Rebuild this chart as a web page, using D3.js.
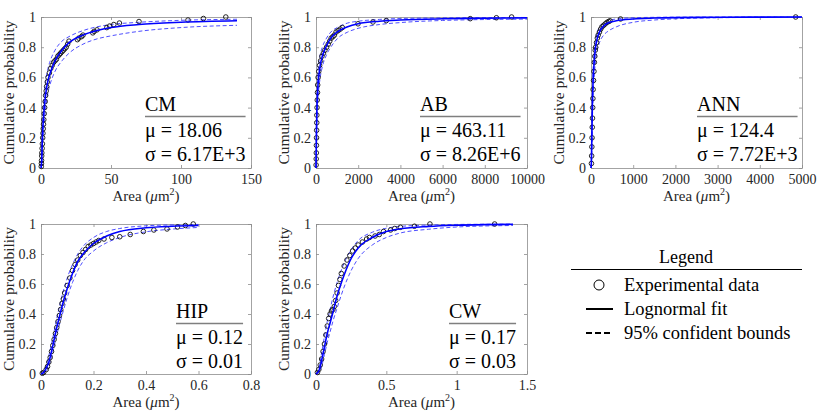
<!DOCTYPE html>
<html>
<head>
<meta charset="utf-8">
<script src="https://cdn.jsdelivr.net/npm/d3@7"></script>
<style>
  body { margin: 0; background: #fff; }
  svg, svg text { font-family: "Liberation Serif", "Times New Roman", Times, "DejaVu Serif", serif; }
</style>
</head>
<body>
<div id="wrapper"></div>
<script>
// panel labels and fitted parameters
const panelNames = ['CM', 'AB', 'ANN', 'HIP', 'CW']
const muLabels = ['18.06', '463.11', '124.4', '0.12', '0.17']
const sigmaLabels = ['6.17E+3', '8.26E+6', '7.72E+3', '0.01', '0.03']
const xDomains = [[0, 150], [0, 10000], [0, 5000], [0, 0.8], [0, 1.5]]
const xTicks = [
  [0, 50, 100, 150],
  [0, 2000, 4000, 6000, 8000, 10000],
  [0, 1000, 2000, 3000, 4000, 5000],
  [0, 0.2, 0.4, 0.6, 0.8],
  [0, 0.5, 1, 1.5]
]
const yTicks = [0, 0.2, 0.4, 0.6, 0.8, 1]
const legendLabels = ['Experimental data', 'Lognormal fit', '95% confident bounds']

// CM
const cmData = [[0.2,0.01],[0.3,0.03],[0.4,0.05],[0.5,0.08],[0.6,0.1],[0.8,0.13],[1,0.16],[1.2,0.2],[1.4,0.23],[1.6,0.26],[1.8,0.29],[2,0.32],[2.3,0.36],[2.6,0.4],[3,0.44],[3.3,0.48],[3.7,0.51],[4,0.54],[4.5,0.57],[5,0.6],[6,0.63],[7,0.66],[8,0.68],[9,0.7],[10,0.71],[11,0.72],[12,0.74],[13,0.75],[14,0.76],[15,0.77],[16,0.78],[17,0.79],[18,0.8],[19,0.82],[20,0.84],[26,0.85],[27,0.86],[29,0.87],[30,0.88],[37,0.895],[38,0.905],[40,0.915],[47,0.93],[49,0.94],[52,0.95],[56,0.96],[70,0.97],[105,0.98],[116,0.99],[132,1.0]]
const cmFit = [[0,0],[0.5,0.05],[1,0.2],[2,0.36],[3,0.46],[4,0.53],[5,0.58],[7,0.64],[10,0.71],[15,0.78],[20,0.83],[30,0.88],[40,0.91],[50,0.93],[70,0.95],[100,0.965],[140,0.975]]
const cmUpper = [[0,0],[0.3,0.03],[1,0.27],[2,0.45],[3,0.55],[5,0.66],[7,0.72],[10,0.78],[15,0.84],[20,0.87],[30,0.91],[40,0.935],[50,0.95],[70,0.965],[100,0.978],[140,0.985]]
const cmLower = [[0,0],[0.5,0.02],[1,0.13],[2,0.27],[3,0.37],[5,0.5],[7,0.57],[10,0.64],[15,0.71],[20,0.76],[30,0.82],[40,0.855],[50,0.875],[70,0.905],[100,0.93],[140,0.945]]

// AB
const abData = [[5,0.02],[10,0.06],[15,0.1],[20,0.15],[25,0.2],[30,0.25],[35,0.3],[40,0.35],[50,0.4],[60,0.45],[70,0.5],[80,0.55],[100,0.6],[130,0.64],[170,0.68],[220,0.71],[280,0.74],[350,0.76],[420,0.78],[500,0.8],[580,0.82],[650,0.84],[720,0.86],[800,0.87],[870,0.88],[950,0.9],[1050,0.91],[1150,0.92],[1250,0.93],[1990,0.955],[2700,0.967],[3330,0.976],[7310,0.989],[8550,0.995],[9270,1.0]]
const abFit = [[0,0],[10,0.1],[20,0.22],[40,0.37],[70,0.49],[100,0.56],[150,0.63],[200,0.68],[300,0.74],[500,0.81],[700,0.86],[1000,0.9],[1500,0.935],[2000,0.955],[3000,0.972],[4000,0.98],[6000,0.988],[8000,0.992],[10000,0.994]]
const abUpper = [[0,0],[10,0.15],[20,0.3],[40,0.46],[70,0.58],[100,0.65],[200,0.75],[300,0.8],[500,0.86],[700,0.9],[1000,0.93],[1500,0.96],[2000,0.972],[3000,0.984],[4000,0.99],[6000,0.994],[10000,0.997]]
const abLower = [[0,0],[10,0.06],[20,0.15],[40,0.28],[70,0.4],[100,0.47],[200,0.6],[300,0.67],[500,0.75],[700,0.8],[1000,0.855],[1500,0.9],[2000,0.925],[3000,0.95],[4000,0.963],[6000,0.977],[10000,0.986]]

// ANN
const annData = [[10,0.03],[15,0.08],[20,0.14],[25,0.2],[30,0.27],[35,0.33],[40,0.4],[45,0.46],[50,0.52],[60,0.58],[70,0.64],[80,0.7],[90,0.74],[100,0.78],[110,0.8],[130,0.83],[150,0.86],[170,0.88],[200,0.9],[230,0.92],[260,0.935],[300,0.945],[340,0.955],[380,0.965],[420,0.97],[450,0.975],[700,0.987],[4850,1.0]]
const annFit = [[0,0],[10,0.05],[20,0.2],[30,0.38],[50,0.58],[75,0.7],[100,0.78],[150,0.86],[200,0.9],[300,0.94],[400,0.96],[600,0.975],[1000,0.987],[1500,0.993],[2000,0.996],[3000,0.998],[5000,1.0]]
const annUpper = [[0,0],[10,0.08],[20,0.28],[30,0.46],[50,0.66],[75,0.77],[100,0.84],[150,0.9],[200,0.935],[300,0.96],[400,0.975],[600,0.987],[1000,0.995],[2000,0.999],[5000,1.0]]
const annLower = [[0,0],[10,0.02],[20,0.12],[30,0.28],[50,0.48],[75,0.6],[100,0.69],[150,0.78],[200,0.83],[300,0.88],[400,0.905],[600,0.935],[1000,0.965],[1500,0.98],[2000,0.988],[3000,0.995],[5000,0.999]]

// HIP
const hipData = [[0.005,0.005],[0.01,0.01],[0.02,0.03],[0.025,0.05],[0.03,0.08],[0.035,0.11],[0.04,0.15],[0.045,0.19],[0.05,0.23],[0.055,0.27],[0.06,0.31],[0.065,0.35],[0.07,0.39],[0.075,0.43],[0.08,0.47],[0.085,0.5],[0.09,0.54],[0.1,0.59],[0.11,0.64],[0.12,0.69],[0.13,0.73],[0.14,0.76],[0.15,0.79],[0.16,0.81],[0.17,0.83],[0.18,0.85],[0.19,0.86],[0.2,0.87],[0.21,0.88],[0.22,0.89],[0.24,0.9],[0.27,0.91],[0.3,0.915],[0.34,0.93],[0.39,0.95],[0.43,0.96],[0.48,0.967],[0.52,0.98],[0.55,0.99],[0.58,1.0]]
const hipFit = [[0,0],[0.01,0.01],[0.02,0.04],[0.03,0.08],[0.04,0.15],[0.05,0.23],[0.06,0.31],[0.07,0.38],[0.08,0.45],[0.1,0.57],[0.12,0.67],[0.14,0.75],[0.16,0.8],[0.2,0.87],[0.25,0.92],[0.3,0.95],[0.4,0.975],[0.5,0.985],[0.6,0.99]]
const hipUpper = [[0,0],[0.02,0.06],[0.04,0.2],[0.06,0.37],[0.08,0.52],[0.1,0.64],[0.12,0.73],[0.14,0.8],[0.16,0.85],[0.2,0.91],[0.25,0.95],[0.3,0.97],[0.4,0.988],[0.5,0.994],[0.6,0.997]]
const hipLower = [[0,0],[0.02,0.02],[0.04,0.11],[0.06,0.26],[0.08,0.39],[0.1,0.51],[0.12,0.61],[0.14,0.69],[0.16,0.75],[0.2,0.82],[0.25,0.875],[0.3,0.91],[0.4,0.948],[0.5,0.966],[0.6,0.977]]

// CW
const cwData = [[0.01,0.01],[0.02,0.03],[0.03,0.06],[0.04,0.1],[0.05,0.15],[0.06,0.2],[0.07,0.26],[0.08,0.32],[0.09,0.37],[0.1,0.4],[0.11,0.42],[0.12,0.43],[0.13,0.45],[0.14,0.49],[0.15,0.54],[0.16,0.59],[0.17,0.63],[0.18,0.67],[0.2,0.72],[0.22,0.76],[0.24,0.79],[0.26,0.82],[0.28,0.84],[0.3,0.86],[0.33,0.88],[0.36,0.9],[0.38,0.91],[0.42,0.92],[0.45,0.93],[0.48,0.95],[0.53,0.96],[0.56,0.97],[0.6,0.978],[0.7,0.985],[0.81,1.0],[1.27,1.0]]
const cwFit = [[0,0],[0.02,0.02],[0.04,0.09],[0.06,0.18],[0.08,0.27],[0.1,0.34],[0.12,0.41],[0.15,0.52],[0.2,0.66],[0.25,0.77],[0.3,0.84],[0.4,0.91],[0.5,0.95],[0.6,0.968],[0.8,0.984],[1.0,0.992],[1.2,0.996],[1.4,0.998]]
const cwUpper = [[0,0],[0.02,0.04],[0.04,0.14],[0.06,0.25],[0.08,0.35],[0.1,0.43],[0.12,0.51],[0.15,0.61],[0.2,0.74],[0.25,0.83],[0.3,0.89],[0.4,0.945],[0.5,0.972],[0.6,0.984],[0.8,0.993],[1.0,0.997],[1.4,0.999]]
const cwLower = [[0,0],[0.02,0.01],[0.04,0.05],[0.06,0.13],[0.08,0.21],[0.1,0.28],[0.12,0.35],[0.15,0.44],[0.2,0.58],[0.25,0.69],[0.3,0.77],[0.4,0.86],[0.5,0.91],[0.6,0.94],[0.8,0.965],[1.0,0.98],[1.4,0.99]]

const series = [
  { data: cmData, fit: cmFit, upper: cmUpper, lower: cmLower },
  { data: abData, fit: abFit, upper: abUpper, lower: abLower },
  { data: annData, fit: annFit, upper: annUpper, lower: annLower },
  { data: hipData, fit: hipFit, upper: hipUpper, lower: hipLower },
  { data: cwData, fit: cwFit, upper: cwUpper, lower: cwLower }
]

// plot boxes [left, top, right, bottom]
const boxes = [
  [41, 17, 251, 168],
  [316, 17, 527, 168],
  [591, 17, 802, 168],
  [41, 224, 251, 374],
  [316, 224, 527, 374]
]
const annotLeft = [145, 420, 697, 176, 449]

const width = 830
const height = 417
const serif = '"Liberation Serif", "Times New Roman", Times, "DejaVu Serif", serif'
const svg = d3.select('#wrapper').append('svg')
  .attr('width', width).attr('height', height)
  .attr('font-family', serif)

const blue = '#0000ff'
const boxColor = '#8c8c8c'
const textColor = '#262626'

boxes.forEach((b, i) => {
  const [l, t, r, bt] = b
  const x = d3.scaleLinear().domain(xDomains[i]).range([l, r])
  const y = d3.scaleLinear().domain([0, 1]).range([bt, t])
  const g = svg.append('g')
  const fmt = d3.format('~g')

  // ticks inward on all four sides
  g.append('g').attr('transform', 'translate(0,' + bt + ')')
    .call(d3.axisBottom(x).tickValues(xTicks[i]).tickFormat(fmt).tickSizeInner(-3).tickSizeOuter(0).tickPadding(6))
  g.append('g').attr('transform', 'translate(0,' + t + ')')
    .call(d3.axisTop(x).tickValues(xTicks[i]).tickFormat('').tickSizeInner(-3).tickSizeOuter(0))
  g.append('g').attr('transform', 'translate(' + l + ',0)')
    .call(d3.axisLeft(y).tickValues(yTicks).tickFormat(fmt).tickSizeInner(-3).tickSizeOuter(0).tickPadding(5))
  g.append('g').attr('transform', 'translate(' + r + ',0)')
    .call(d3.axisRight(y).tickValues(yTicks).tickFormat('').tickSizeInner(-3).tickSizeOuter(0))
  g.selectAll('g').attr('font-family', serif).attr('font-size', 14)
  g.selectAll('.domain, .tick line').attr('stroke', boxColor).attr('stroke-width', 0.8)
  g.selectAll('.tick text').attr('fill', textColor)

  const line = d3.line().x(d => x(d[0])).y(d => y(d[1])).curve(d3.curveMonotoneX)
  const s = series[i]
  ;[s.upper, s.lower].forEach(arr => {
    g.append('path').datum(arr).attr('d', line)
      .attr('fill', 'none').attr('stroke', '#3a3aff').attr('stroke-width', 0.9)
      .attr('stroke-dasharray', '4,2.5')
  })
  g.selectAll('circle.pt').data(s.data).enter().append('circle')
    .attr('class', 'pt')
    .attr('cx', d => x(d[0])).attr('cy', d => y(d[1])).attr('r', 2.3)
    .attr('fill', 'none').attr('stroke', '#111').attr('stroke-width', 0.9)
  g.append('path').datum(s.fit).attr('d', line)
    .attr('fill', 'none').attr('stroke', blue).attr('stroke-width', 1.6)

  // axis labels
  const xl = g.append('text').attr('x', (l + r) / 2).attr('y', bt + 33)
    .attr('text-anchor', 'middle').attr('fill', textColor).attr('font-size', 15)
  xl.append('tspan').text('Area (')
  xl.append('tspan').text('μ').attr('font-style', 'italic')
  xl.append('tspan').text('m')
  xl.append('tspan').text('2').attr('dy', -6).attr('font-size', 10)
  xl.append('tspan').text(')').attr('dy', 6)

  g.append('text')
    .attr('transform', 'translate(' + (l - 27) + ',' + ((t + bt) / 2) + ') rotate(-90)')
    .attr('text-anchor', 'middle').attr('fill', textColor).attr('font-size', 15.5)
    .text('Cumulative probability')

  // annotation
  const ax = annotLeft[i]
  const texts = [
    [panelNames[i], t + 94],
    ['μ = ' + muLabels[i], t + 120],
    ['σ = ' + sigmaLabels[i], t + 144]
  ]
  let maxW = 0
  texts.forEach(tt => {
    const node = g.append('text').attr('x', ax).attr('y', tt[1])
      .attr('fill', '#000').attr('font-size', 20).text(tt[0])
    maxW = Math.max(maxW, node.node().getComputedTextLength())
  })
  g.append('line').attr('x1', ax).attr('x2', ax + maxW)
    .attr('y1', t + 99.5).attr('y2', t + 99.5)
    .attr('stroke', '#7f7f7f').attr('stroke-width', 1.3)
})

// legend
const lg = svg.append('g')
lg.append('text').attr('x', 686).attr('y', 263).attr('text-anchor', 'middle')
  .attr('font-size', 18).text('Legend')
lg.append('line').attr('x1', 571).attr('x2', 802).attr('y1', 269.5).attr('y2', 269.5)
  .attr('stroke', '#000').attr('stroke-width', 1)
const legendY = [285, 309, 333]
lg.append('circle').attr('cx', 599).attr('cy', legendY[0]).attr('r', 5)
  .attr('fill', 'none').attr('stroke', '#000').attr('stroke-width', 1)
lg.append('line').attr('x1', 586).attr('x2', 613).attr('y1', legendY[1]).attr('y2', legendY[1])
  .attr('stroke', '#000').attr('stroke-width', 2)
lg.append('line').attr('x1', 586).attr('x2', 613).attr('y1', legendY[2]).attr('y2', legendY[2])
  .attr('stroke', '#000').attr('stroke-width', 2).attr('stroke-dasharray', '6,3')
legendLabels.forEach((lab, k) => {
  lg.append('text').attr('x', 624).attr('y', legendY[k] + 6)
    .attr('font-size', 18.5).text(lab)
})
</script>
</body>
</html>
